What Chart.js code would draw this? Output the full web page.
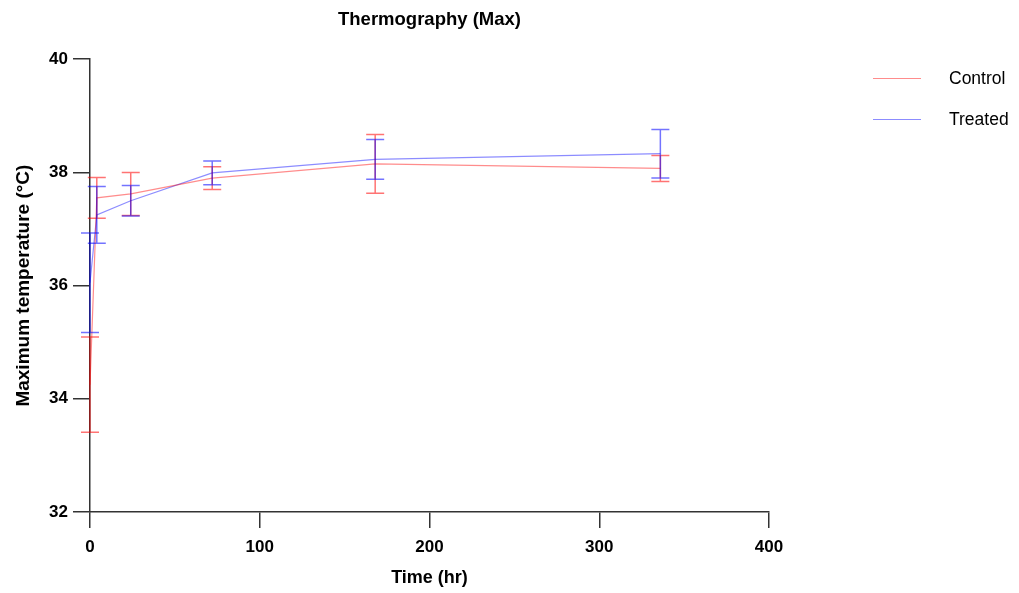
<!DOCTYPE html>
<html>
<head>
<meta charset="utf-8">
<script src="https://cdn.jsdelivr.net/npm/chart.js@4"></script>
<style>
  html, body { margin: 0; padding: 0; background: #fff; }
  #wrap { width: 1019px; height: 593px; position: relative; }
</style>
</head>
<body>
<div id="wrap"><canvas id="c" width="1019" height="593"></canvas></div>
<script>
// ---- data ----
const timeHr = [0, 4, 24, 72, 168, 336];
const controlMean = [34.25, 37.55, 37.62, 37.90, 38.15, 38.07];
const controlErr  = [0.84, 0.36, 0.38, 0.20, 0.52, 0.23];
const treatedMean = [36.05, 37.25, 37.50, 37.99, 38.23, 38.33];
const treatedErr  = [0.88, 0.50, 0.27, 0.21, 0.35, 0.43];
const seriesNames = ['Control', 'Treated'];
const xTicks = [0, 100, 200, 300, 400];
const yTicks = [32, 34, 36, 38, 40];

const FONT = '"Liberation Sans", Arial, sans-serif';
Chart.defaults.font.family = FONT;
Chart.defaults.color = '#000';

const colors = ['rgba(255,0,0,0.45)', 'rgba(0,0,255,0.45)'];
const errColors = ['rgba(255,0,0,0.55)', 'rgba(0,0,255,0.55)'];

function pts(means) { return timeHr.map((t, i) => ({ x: t, y: means[i] })); }

const errorBars = {
  id: 'errorBars',
  afterDatasetsDraw(chart) {
    const ctx = chart.ctx;
    const ys = chart.scales.y;
    chart.data.datasets.forEach((ds, di) => {
      const meta = chart.getDatasetMeta(di);
      ctx.save();
      ctx.strokeStyle = errColors[di];
      ctx.lineWidth = 1.5;
      meta.data.forEach((p, i) => {
        const m = ds.data[i].y, e = ds.errors[i];
        const yt = ys.getPixelForValue(m + e), yb = ys.getPixelForValue(m - e);
        const x = p.x, hw = 9;
        ctx.beginPath();
        ctx.moveTo(x, yt); ctx.lineTo(x, yb);
        ctx.moveTo(x - hw, yt); ctx.lineTo(x + hw, yt);
        ctx.moveTo(x - hw, yb); ctx.lineTo(x + hw, yb);
        ctx.stroke();
      });
      ctx.restore();
    });
  }
};

const customLegend = {
  id: 'customLegend',
  afterDraw(chart) {
    const ctx = chart.ctx;
    ctx.save();
    chart.data.datasets.forEach((ds, i) => {
      const y = 78.5 + i * 41;
      ctx.strokeStyle = colors[i];
      ctx.lineWidth = 1.2;
      ctx.beginPath();
      ctx.moveTo(873, y); ctx.lineTo(921, y);
      ctx.stroke();
      ctx.fillStyle = '#000';
      ctx.font = '17.5px ' + FONT;
      ctx.textBaseline = 'middle';
      ctx.textAlign = 'left';
      ctx.fillText(ds.label, 949, y + 1);
    });
    ctx.restore();
  }
};

new Chart(document.getElementById('c'), {
  type: 'line',
  data: {
    datasets: [
      { label: seriesNames[0], data: pts(controlMean), errors: controlErr,
        borderColor: colors[0], borderWidth: 1.2, pointRadius: 0, tension: 0, clip: false },
      { label: seriesNames[1], data: pts(treatedMean), errors: treatedErr,
        borderColor: colors[1], borderWidth: 1.2, pointRadius: 0, tension: 0, clip: false }
    ]
  },
  options: {
    responsive: false,
    animation: false,
    layout: { padding: { left: 0, right: 250, top: 0, bottom: 0 } },
    plugins: {
      legend: { display: false },
      tooltip: { enabled: false },
      title: {
        display: true, text: 'Thermography (Max)', fullSize: false,
        font: { size: 18.5, weight: 'bold' }, color: '#000',
        padding: { top: 9, bottom: 28 }
      }
    },
    scales: {
      x: {
        type: 'linear', min: 0, max: 400,
        afterBuildTicks(s) { s.ticks = xTicks.map(v => ({ value: v })); },
        afterFit(s) { s.height = 81; },
        ticks: { font: { size: 17, weight: 'bold' }, color: '#000', padding: 9 },
        grid: { drawOnChartArea: false, drawTicks: true, tickLength: 16, color: '#333', lineWidth: 1.5 },
        border: { display: true, color: '#333', width: 1.5 },
        title: { display: true, text: 'Time (hr)', font: { size: 18, weight: 'bold' }, color: '#000',
                 padding: { top: 4, bottom: 4 } }
      },
      y: {
        type: 'linear', min: 32, max: 40,
        afterBuildTicks(s) { s.ticks = yTicks.map(v => ({ value: v })); },
        afterFit(s) { s.width = 90; },
        ticks: { font: { size: 17, weight: 'bold' }, color: '#000', padding: 5 },
        grid: { drawOnChartArea: false, drawTicks: true, tickLength: 17, color: '#333', lineWidth: 1.5 },
        border: { display: true, color: '#333', width: 1.5 },
        title: { display: true, text: 'Maximum temperature (°C)', font: { size: 19, weight: 'bold' }, color: '#000',
                 padding: { top: 12, bottom: 4 } }
      }
    }
  },
  plugins: [errorBars, customLegend]
});
</script>
</body>
</html>
